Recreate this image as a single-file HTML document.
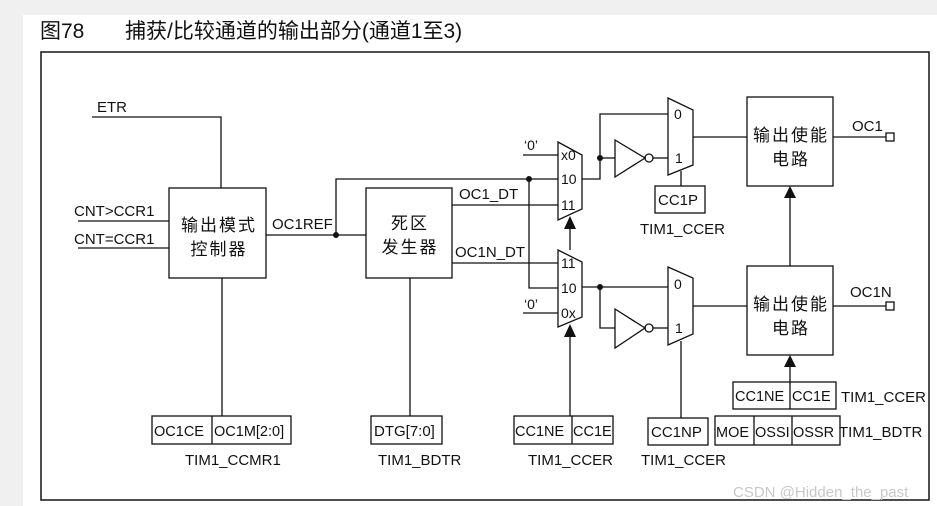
<!DOCTYPE html>
<html><head><meta charset="utf-8"><style>
html,body{margin:0;padding:0;background:#f0f0f0;}
svg{display:block;}
text{font-family:"Liberation Sans","Noto Sans CJK SC",sans-serif;fill:#111;}
</style></head><body>
<svg width="937" height="506" viewBox="0 0 937 506" xmlns="http://www.w3.org/2000/svg">
<rect x="23" y="15" width="914" height="491" fill="#fff"/>
<text x="40" y="38" font-size="21">图78</text>
<text x="125" y="38" font-size="21">捕获/比较通道的输出部分(通道1至3)</text>
<rect x="41" y="52" width="888" height="448" fill="none" stroke="#222" stroke-width="1.6"/>
<g stroke="#111" stroke-width="1.3" fill="none">
<polyline points="92,117 221,117 221,188"/>
<line x1="78" y1="221" x2="169" y2="221"/>
<line x1="78" y1="248" x2="169" y2="248"/>
<rect x="169" y="188" width="97" height="90"/>
<line x1="222" y1="278" x2="222" y2="416"/>
<line x1="266" y1="235" x2="366" y2="235"/>
<polyline points="336,235 336,179 558,179"/>
<polyline points="529,179 529,288 558,288"/>
<rect x="366" y="188" width="86" height="90"/>
<line x1="410" y1="278" x2="410" y2="416"/>
<line x1="452" y1="205" x2="558" y2="205"/>
<line x1="452" y1="263" x2="558" y2="263"/>
<line x1="523" y1="155" x2="558" y2="155"/>
<line x1="523" y1="313" x2="558" y2="313"/>
<polygon points="558,142 582,155 582,209 558,220"/>
<polygon points="558,250 582,262 582,317 558,327"/>
<line x1="570" y1="225" x2="570" y2="250"/>
<line x1="570" y1="333" x2="570" y2="416"/>
<polyline points="582,179 600,179 600,114 668,114"/>
<line x1="600" y1="158" x2="615" y2="158"/>
<polygon points="615,140 645,158 615,177"/>
<circle cx="649" cy="158" r="4"/>
<line x1="653" y1="158" x2="668" y2="158"/>
<polygon points="668,98 693,110 693,165 668,175"/>
<line x1="681" y1="171" x2="681" y2="186"/>
<rect x="655" y="186" width="50" height="27"/>
<line x1="693" y1="137" x2="747" y2="137"/>
<rect x="747" y="97" width="86" height="89"/>
<line x1="833" y1="137" x2="886" y2="137"/>
<rect x="886" y="133" width="8" height="8"/>
<line x1="790" y1="196" x2="790" y2="266"/>
<line x1="582" y1="287" x2="668" y2="287"/>
<polyline points="600,287 600,328 615,328"/>
<polygon points="615,309 645,328 615,348"/>
<circle cx="649" cy="328" r="4"/>
<line x1="653" y1="328" x2="668" y2="328"/>
<polygon points="668,267 693,278 693,334 668,345"/>
<line x1="681" y1="341" x2="681" y2="418"/>
<rect x="648" y="418" width="60" height="27"/>
<line x1="693" y1="306" x2="747" y2="306"/>
<rect x="747" y="266" width="86" height="89"/>
<line x1="833" y1="306" x2="886" y2="306"/>
<rect x="886" y="302" width="8" height="8"/>
<line x1="790" y1="365" x2="790" y2="382"/>
<rect x="733" y="382" width="103" height="27"/>
<line x1="790" y1="382" x2="790" y2="409"/>
<rect x="715" y="416" width="125" height="29"/>
<line x1="754" y1="416" x2="754" y2="445"/>
<line x1="792" y1="416" x2="792" y2="445"/>
<rect x="152" y="416" width="139" height="28"/>
<line x1="212" y1="416" x2="212" y2="444"/>
<rect x="371" y="416" width="71" height="28"/>
<rect x="514" y="416" width="99" height="28"/>
<line x1="572" y1="416" x2="572" y2="444"/>
</g>
<g fill="#111">
<circle cx="336" cy="235" r="3"/>
<circle cx="529" cy="179" r="3"/>
<circle cx="600" cy="158" r="3"/>
<circle cx="600" cy="287" r="3"/>
<polygon points="570,216 564,229 576,229"/>
<polygon points="570,324 564,337 576,337"/>
<polygon points="790,186 784,198 796,198"/>
<polygon points="790,355 784,367 796,367"/>
</g>
<g font-size="15">
<text x="97" y="112">ETR</text>
<text x="74" y="216">CNT&gt;CCR1</text>
<text x="74" y="244">CNT=CCR1</text>
<text x="272" y="229">OC1REF</text>
<text x="459" y="199">OC1_DT</text>
<text x="455" y="257">OC1N_DT</text>
<text x="524" y="150" font-size="14">‘0’</text>
<text x="524" y="309" font-size="14">‘0’</text>
<text x="561" y="160" font-size="14">x0</text>
<text x="561" y="184" font-size="14">10</text>
<text x="561" y="210" font-size="14">11</text>
<text x="561" y="268" font-size="14">11</text>
<text x="561" y="293" font-size="14">10</text>
<text x="561" y="318" font-size="14">0x</text>
<text x="674" y="119" font-size="14">0</text>
<text x="675" y="163" font-size="14">1</text>
<text x="674" y="289" font-size="14">0</text>
<text x="675" y="333" font-size="14">1</text>
<text x="658" y="205">CC1P</text>
<text x="640" y="234">TIM1_CCER</text>
<text x="852" y="131">OC1</text>
<text x="850" y="297">OC1N</text>
<text x="154" y="436" font-size="14.5">OC1CE</text>
<text x="214" y="436" font-size="14.5">OC1M[2:0]</text>
<text x="185" y="465">TIM1_CCMR1</text>
<text x="374" y="436">DTG[7:0]</text>
<text x="378" y="465">TIM1_BDTR</text>
<text x="515" y="436" font-size="14.5">CC1NE</text>
<text x="573" y="436" font-size="14.5">CC1E</text>
<text x="528" y="465">TIM1_CCER</text>
<text x="651" y="437">CC1NP</text>
<text x="641" y="465">TIM1_CCER</text>
<text x="735" y="401" font-size="14.5">CC1NE</text>
<text x="792" y="401" font-size="14.5">CC1E</text>
<text x="841" y="402">TIM1_CCER</text>
<text x="716" y="437" font-size="14.5">MOE</text>
<text x="755" y="437" font-size="14.5">OSSI</text>
<text x="793" y="437" font-size="14.5">OSSR</text>
<text x="839" y="437">TIM1_BDTR</text>
</g>
<g font-size="17" text-anchor="middle" letter-spacing="2">
<text x="219" y="231">输出模式</text>
<text x="219" y="255">控制器</text>
<text x="410" y="229">死区</text>
<text x="410" y="253">发生器</text>
<text x="791" y="141">输出使能</text>
<text x="791" y="165">电路</text>
<text x="791" y="310">输出使能</text>
<text x="791" y="334">电路</text>
</g>
<text x="733" y="497" font-size="15" style="fill:#c8c8c8">CSDN @Hidden_the_past</text>
</svg>
</body></html>
